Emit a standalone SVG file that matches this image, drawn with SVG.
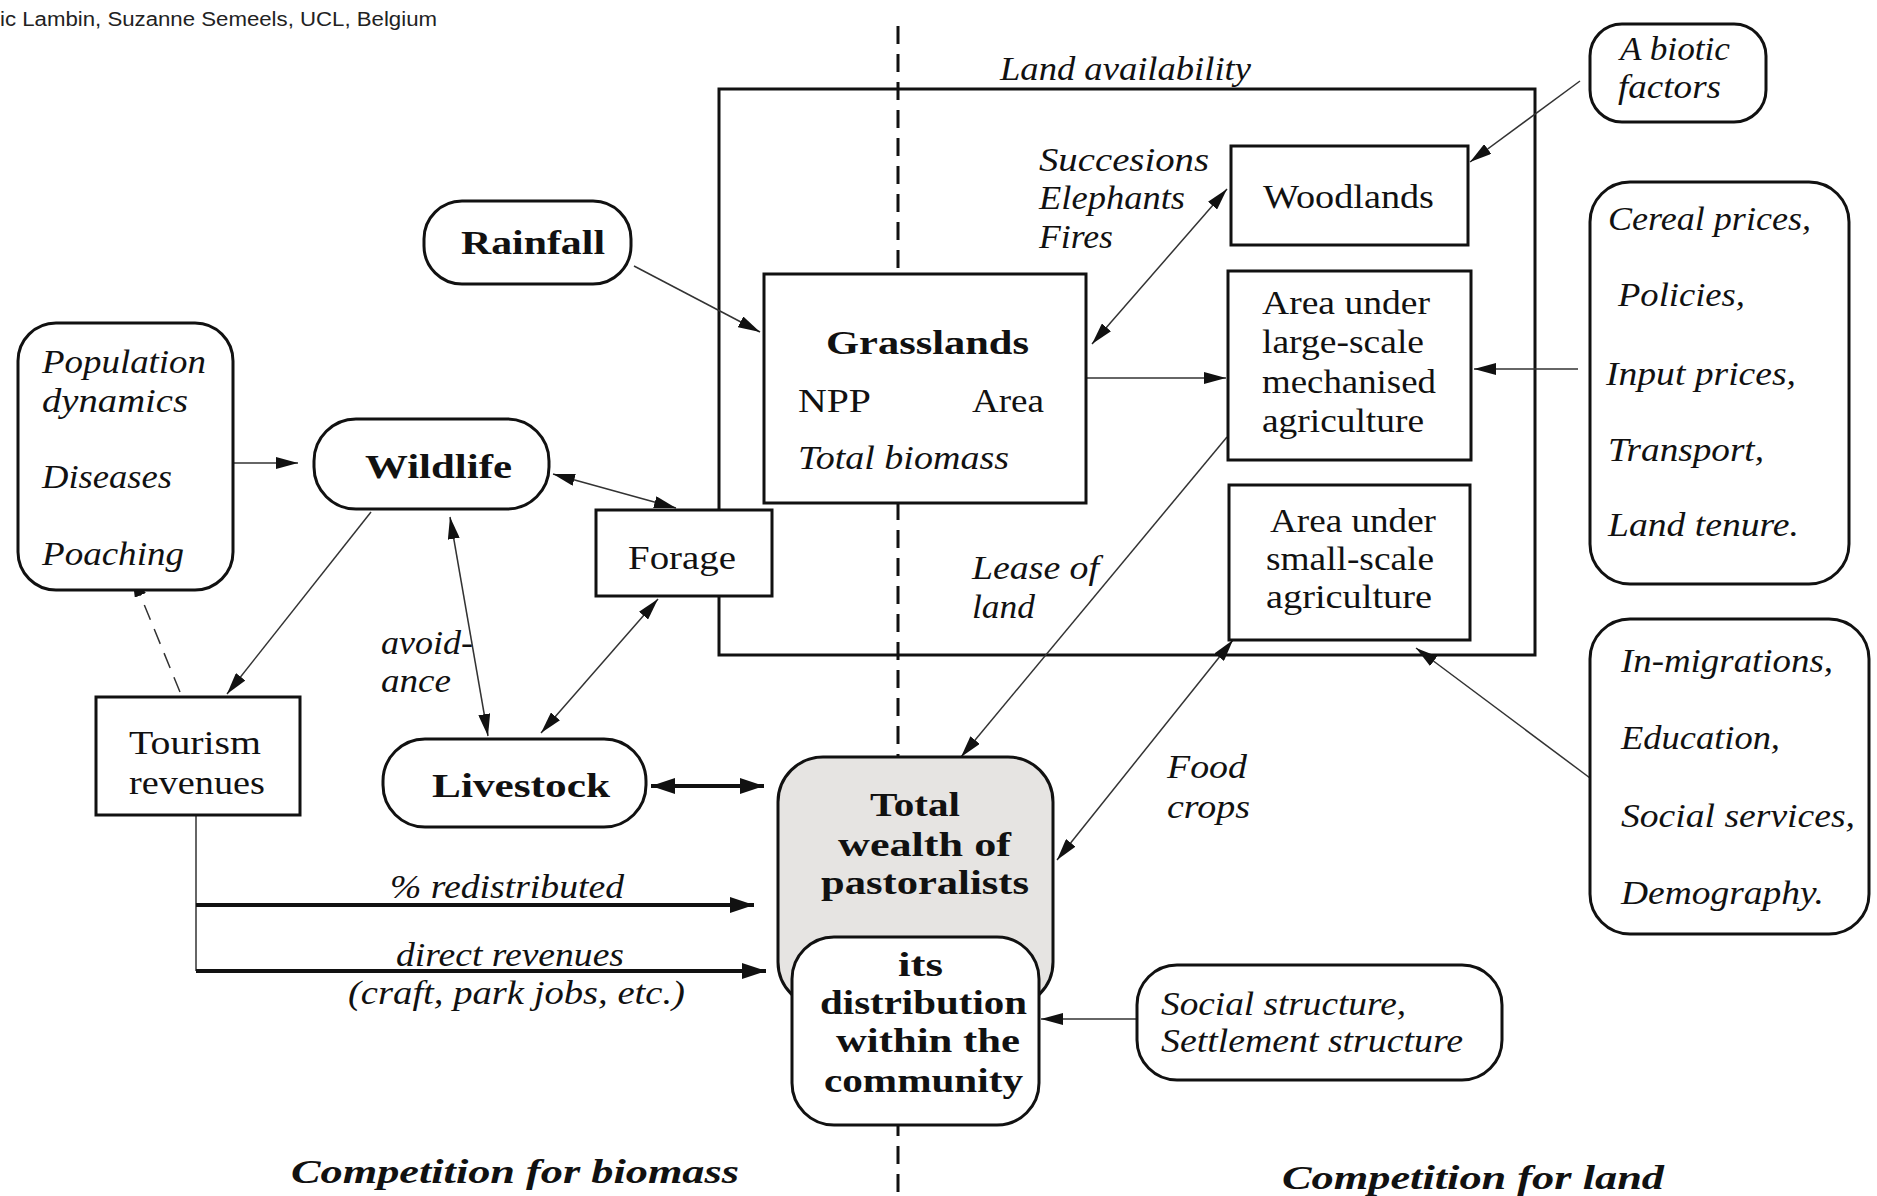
<svg xmlns="http://www.w3.org/2000/svg" width="1877" height="1196" viewBox="0 0 1877 1196">
<style>
.t{font-family:"Liberation Serif",serif;font-size:34px;fill:#111}
.i{font-style:italic}
.b{font-weight:bold}
.box{fill:#fff;stroke:#111;stroke-width:3}
.c{fill:none;stroke:#333;stroke-width:1.5}
.ct{fill:none;stroke:#111;stroke-width:4}
</style>
<defs>
<marker id="a" viewBox="0 0 22 12" refX="22" refY="6" markerWidth="22" markerHeight="12" markerUnits="userSpaceOnUse" orient="auto-start-reverse"><path d="M0,0 L22,6 L0,12 Z" fill="#111"/></marker>
<marker id="A" viewBox="0 0 24 16" refX="24" refY="8" markerWidth="24" markerHeight="16" markerUnits="userSpaceOnUse" orient="auto-start-reverse"><path d="M0,0 L24,8 L0,16 Z" fill="#111"/></marker>
</defs>
<rect width="1877" height="1196" fill="#fff"/>
<text x="0" y="26" font-family="Liberation Sans,sans-serif" font-size="20" fill="#222" textLength="437" lengthAdjust="spacingAndGlyphs">ic Lambin, Suzanne Semeels, UCL, Belgium</text>
<line x1="898" y1="26" x2="898" y2="1196" stroke="#111" stroke-width="3" stroke-dasharray="18 10"/>
<g id="land-availability">
<rect x="719" y="89" width="816" height="566" fill="none" stroke="#111" stroke-width="3"/>
<text class="t i" x="1000" y="80" textLength="251" lengthAdjust="spacingAndGlyphs">Land availability</text>
</g>
<g id="connectors">
<line class="c" x1="1580" y1="81" x2="1470" y2="162" marker-end="url(#a)"/>
<line class="c" x1="1227" y1="189" x2="1092" y2="344" marker-start="url(#a)" marker-end="url(#a)"/>
<line class="c" x1="634" y1="266" x2="760" y2="332" marker-end="url(#a)"/>
<line class="c" x1="1086" y1="378" x2="1226" y2="378" stroke-width="2.5" marker-end="url(#a)"/>
<line class="c" x1="1578" y1="369" x2="1474" y2="369" stroke-width="3" stroke="#666" marker-end="url(#a)"/>
<line class="c" x1="1227" y1="437" x2="961" y2="757" marker-end="url(#a)"/>
<line class="c" x1="1233" y1="640" x2="1057" y2="860" marker-start="url(#a)" marker-end="url(#a)"/>
<line class="c" x1="1590" y1="778" x2="1416" y2="648" marker-end="url(#a)"/>
<line class="c" x1="1137" y1="1019" x2="1041" y2="1019" stroke-width="2" marker-end="url(#a)"/>
<line class="c" x1="233" y1="463" x2="298" y2="463" stroke-width="3" stroke="#666" marker-end="url(#a)"/>
<line class="c" x1="553" y1="474" x2="676" y2="508" stroke-width="2" marker-start="url(#a)" marker-end="url(#a)"/>
<line class="c" x1="371" y1="512" x2="227" y2="694" marker-end="url(#a)"/>
<line class="c" x1="180" y1="692" x2="132" y2="575" stroke="#111" stroke-width="3" stroke-dasharray="16 10" marker-end="url(#a)"/>
<line class="c" x1="450" y1="517" x2="488" y2="736" marker-start="url(#a)" marker-end="url(#a)"/>
<line class="c" x1="658" y1="599" x2="541" y2="733" stroke-width="2" marker-start="url(#a)" marker-end="url(#a)"/>
<line class="ct" x1="651" y1="786" x2="764" y2="786" marker-start="url(#A)" marker-end="url(#A)"/>
<polyline class="c" points="196,815 196,971" stroke="#111" stroke-width="2.5"/>
<line class="ct" x1="196" y1="905" x2="754" y2="905" marker-end="url(#A)"/>
<line class="ct" x1="196" y1="971" x2="766" y2="971" marker-end="url(#A)"/>
<text class="t i" x="972" y="579" textLength="127" lengthAdjust="spacingAndGlyphs">Lease of</text>
<text class="t i" x="972" y="618" textLength="63" lengthAdjust="spacingAndGlyphs">land</text>
<text class="t i" x="381" y="654" textLength="92" lengthAdjust="spacingAndGlyphs">avoid-</text>
<text class="t i" x="381" y="692" textLength="70" lengthAdjust="spacingAndGlyphs">ance</text>
<text class="t i" x="1167" y="778" textLength="80" lengthAdjust="spacingAndGlyphs">Food</text>
<text class="t i" x="1167" y="818" textLength="83" lengthAdjust="spacingAndGlyphs">crops</text>
<text class="t i" x="390" y="898" textLength="234" lengthAdjust="spacingAndGlyphs">% redistributed</text>
<text class="t i" x="396" y="966" textLength="228" lengthAdjust="spacingAndGlyphs">direct revenues</text>
<text class="t i" x="348" y="1004" textLength="337" lengthAdjust="spacingAndGlyphs">(craft, park jobs, etc.)</text>
<text class="t i" x="1039" y="171" textLength="170" lengthAdjust="spacingAndGlyphs">Succesions</text>
<text class="t i" x="1039" y="209" textLength="146" lengthAdjust="spacingAndGlyphs">Elephants</text>
<text class="t i" x="1039" y="248" textLength="74" lengthAdjust="spacingAndGlyphs">Fires</text>
</g>
<g id="abiotic">
<rect class="box" x="1590" y="24" width="176" height="98" rx="32"/>
<text class="t i" x="1620" y="60" textLength="110" lengthAdjust="spacingAndGlyphs">A biotic</text>
<text class="t i" x="1618" y="98" textLength="103" lengthAdjust="spacingAndGlyphs">factors</text>
</g>
<g id="woodlands">
<rect class="box" x="1231" y="146" width="237" height="99"/>
<text class="t" x="1263" y="208" textLength="171" lengthAdjust="spacingAndGlyphs">Woodlands</text>
</g>
<g id="rainfall">
<rect class="box" x="424" y="201" width="207" height="83" rx="38"/>
<text class="t b" x="461" y="254" textLength="144" lengthAdjust="spacingAndGlyphs">Rainfall</text>
</g>
<g id="grasslands">
<rect class="box" x="764" y="274" width="322" height="229"/>
<text class="t b" x="826" y="354" textLength="203" lengthAdjust="spacingAndGlyphs">Grasslands</text>
<text class="t" x="798" y="412" textLength="73" lengthAdjust="spacingAndGlyphs">NPP</text>
<text class="t" x="972" y="412" textLength="72" lengthAdjust="spacingAndGlyphs">Area</text>
<text class="t i" x="798" y="469" textLength="211" lengthAdjust="spacingAndGlyphs">Total biomass</text>
</g>
<g id="large-scale">
<rect class="box" x="1228" y="271" width="243" height="189"/>
<text class="t" x="1262" y="314" textLength="168" lengthAdjust="spacingAndGlyphs">Area under</text>
<text class="t" x="1262" y="353" textLength="162" lengthAdjust="spacingAndGlyphs">large-scale</text>
<text class="t" x="1262" y="393" textLength="174" lengthAdjust="spacingAndGlyphs">mechanised</text>
<text class="t" x="1262" y="432" textLength="162" lengthAdjust="spacingAndGlyphs">agriculture</text>
</g>
<g id="small-scale">
<rect class="box" x="1229" y="485" width="241" height="155"/>
<text class="t" x="1270" y="532" textLength="166" lengthAdjust="spacingAndGlyphs">Area under</text>
<text class="t" x="1266" y="570" textLength="168" lengthAdjust="spacingAndGlyphs">small-scale</text>
<text class="t" x="1266" y="608" textLength="166" lengthAdjust="spacingAndGlyphs">agriculture</text>
</g>
<g id="economic-factors">
<rect class="box" x="1590" y="182" width="259" height="402" rx="40"/>
<text class="t i" x="1608" y="230" textLength="203" lengthAdjust="spacingAndGlyphs">Cereal prices,</text>
<text class="t i" x="1618" y="306" textLength="127" lengthAdjust="spacingAndGlyphs">Policies,</text>
<text class="t i" x="1606" y="385" textLength="190" lengthAdjust="spacingAndGlyphs">Input prices,</text>
<text class="t i" x="1608" y="461" textLength="156" lengthAdjust="spacingAndGlyphs">Transport,</text>
<text class="t i" x="1608" y="536" textLength="191" lengthAdjust="spacingAndGlyphs">Land tenure.</text>
</g>
<g id="social-factors">
<rect class="box" x="1590" y="619" width="279" height="315" rx="40"/>
<text class="t i" x="1621" y="672" textLength="212" lengthAdjust="spacingAndGlyphs">In-migrations,</text>
<text class="t i" x="1621" y="749" textLength="159" lengthAdjust="spacingAndGlyphs">Education,</text>
<text class="t i" x="1621" y="827" textLength="234" lengthAdjust="spacingAndGlyphs">Social services,</text>
<text class="t i" x="1621" y="904" textLength="203" lengthAdjust="spacingAndGlyphs">Demography.</text>
</g>
<g id="population">
<rect class="box" x="18" y="323" width="215" height="267" rx="38"/>
<text class="t i" x="42" y="373" textLength="164" lengthAdjust="spacingAndGlyphs">Population</text>
<text class="t i" x="42" y="412" textLength="146" lengthAdjust="spacingAndGlyphs">dynamics</text>
<text class="t i" x="42" y="488" textLength="130" lengthAdjust="spacingAndGlyphs">Diseases</text>
<text class="t i" x="42" y="565" textLength="142" lengthAdjust="spacingAndGlyphs">Poaching</text>
</g>
<g id="wildlife">
<rect class="box" x="314" y="419" width="235" height="90" rx="42"/>
<text class="t b" x="365" y="478" textLength="147" lengthAdjust="spacingAndGlyphs">Wildlife</text>
</g>
<g id="forage">
<rect class="box" x="596" y="510" width="176" height="86"/>
<text class="t" x="628" y="569" textLength="108" lengthAdjust="spacingAndGlyphs">Forage</text>
</g>
<g id="tourism">
<rect class="box" x="96" y="697" width="204" height="118"/>
<text class="t" x="129" y="754" textLength="132" lengthAdjust="spacingAndGlyphs">Tourism</text>
<text class="t" x="129" y="794" textLength="136" lengthAdjust="spacingAndGlyphs">revenues</text>
</g>
<g id="livestock">
<rect class="box" x="383" y="739" width="263" height="88" rx="42"/>
<text class="t b" x="432" y="797" textLength="178" lengthAdjust="spacingAndGlyphs">Livestock</text>
</g>
<g id="total-wealth">
<rect x="778" y="757" width="275" height="250" rx="45" fill="#e6e4e2" stroke="#111" stroke-width="3"/>
<text class="t b" x="870" y="816" textLength="90" lengthAdjust="spacingAndGlyphs">Total</text>
<text class="t b" x="838" y="856" textLength="173" lengthAdjust="spacingAndGlyphs">wealth of</text>
<text class="t b" x="821" y="894" textLength="208" lengthAdjust="spacingAndGlyphs">pastoralists</text>
</g>
<g id="distribution">
<rect class="box" x="792" y="937" width="247" height="188" rx="42"/>
<text class="t b" x="898" y="976" textLength="45" lengthAdjust="spacingAndGlyphs">its</text>
<text class="t b" x="820" y="1014" textLength="207" lengthAdjust="spacingAndGlyphs">distribution</text>
<text class="t b" x="836" y="1052" textLength="184" lengthAdjust="spacingAndGlyphs">within the</text>
<text class="t b" x="824" y="1092" textLength="199" lengthAdjust="spacingAndGlyphs">community</text>
</g>
<g id="social-structure">
<rect class="box" x="1137" y="965" width="365" height="115" rx="40"/>
<text class="t i" x="1161" y="1015" textLength="245" lengthAdjust="spacingAndGlyphs">Social structure,</text>
<text class="t i" x="1161" y="1052" textLength="302" lengthAdjust="spacingAndGlyphs">Settlement structure</text>
</g>
<text class="t b i" x="291" y="1183" textLength="448" lengthAdjust="spacingAndGlyphs">Competition for biomass</text>
<text class="t b i" x="1282" y="1189" textLength="382" lengthAdjust="spacingAndGlyphs">Competition for land</text>
</svg>
